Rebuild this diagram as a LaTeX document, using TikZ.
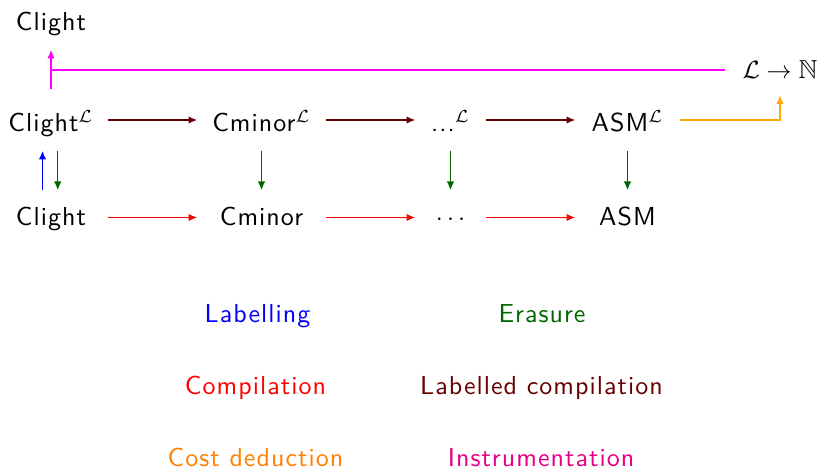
\documentclass[tikz,border=0pt]{standalone}
\usepackage{amssymb}
\usepackage{fontspec}
\setsansfont{lmsans10-regular.otf}[LetterSpace=4]
\usetikzlibrary{arrows.meta}
\definecolor{lblue}{rgb}{0,0,1}
\definecolor{lred}{rgb}{1,0,0}
\definecolor{lgreen}{rgb}{0,0.4,0}
\definecolor{ldred}{rgb}{0.4,0,0}
\definecolor{lorangeT}{rgb}{1,0.5,0}
\definecolor{lorangeA}{rgb}{1,0.66,0}
\definecolor{lmagA}{rgb}{1,0,1}
\definecolor{lmagT}{rgb}{0.9,0,0.52}
\tikzset{
  lbl/.style={font=\fontsize{10.4}{12.5}\sffamily, inner xsep=0pt, inner ysep=5pt, anchor=base},
  rowA/.style={lbl, text height=12pt, text depth=2.4pt},
  rowB/.style={lbl, text height=9.2pt, text depth=2.4pt},
  colA/.style={minimum width=45.2pt},
  colB/.style={minimum width=51.2pt},
  colC/.style={minimum width=28pt},
  colD/.style={minimum width=41.6pt},
  arr/.style={-{Latex[length=3.4pt,width=3pt]}, line width=0.42pt},
  legend/.style={font=\fontsize{10.4}{12.5}\sffamily, inner sep=0pt, anchor=base},
}
\begin{document}
\begin{tikzpicture}[x=0.4pt,y=-0.4pt]
\useasboundingbox (0,0) rectangle (824,470);
% top
\node[rowB, colA] (top) at (51,31) {Clight};
\node[inner sep=0pt, minimum width=44pt, minimum height=20pt, font=\fontsize{10.4}{12.5}\selectfont] (LN) at (780,70) {$\mathcal{L}\to\mathbb{N}$};
% row 1
\node[rowA, colA] (a1) at (51,132) {Clight$^{\mathcal{L}}$};
\node[rowA, colB] (a2) at (261.5,132) {Cminor$^{\mathcal{L}}$};
\node[rowA, colC] (a3) at (450.5,132) {...$^{\mathcal{L}}$};
\node[rowA, colD] (a4) at (627.5,132) {ASM$^{\mathcal{L}}$};
% row 2
\node[rowB, colA] (b1) at (51,226) {Clight};
\node[rowB, colB] (b2) at (261.5,226) {Cminor};
\node[rowB, colC] (b3) at (450.5,226) {$\cdots$};
\node[rowB, colD] (b4) at (627.5,226) {ASM};
% labelled compilation
\draw[arr, ldred] (a1) -- (a2);
\draw[arr, ldred] (a2) -- (a3);
\draw[arr, ldred] (a3) -- (a4);
% compilation
\draw[arr, lred] (b1) -- (b2);
\draw[arr, lred] (b2) -- (b3);
\draw[arr, lred] (b3) -- (b4);
% labelling and erasure
\draw[arr, lblue] ([xshift=-3.4pt]b1.north) -- ([xshift=-3.4pt]a1.south);
\draw[arr, lgreen] ([xshift=2.7pt]a1.south) -- ([xshift=2.7pt]b1.north);
\draw[arr, lgreen] (a2) -- (b2);
\draw[arr, lgreen] (a3) -- (b3);
\draw[arr, lgreen] (a4) -- (b4);
% cost deduction
\draw[arr, lorangeA] (a4.east) -| (LN.south);
% instrumentation
\coordinate (J) at (LN.west -| a1.north);
\draw[line width=0.42pt, lmagA] (LN.west) -- (J);
\draw[arr, lmagA] (a1.north) -- (top.south);
% legend
\node[legend, text=lblue] (g1) at (257.5,323) {Labelling};
\node[legend, text=lgreen] (g2) at (542,323) {Erasure};
\node[legend, text=lred] (g3) at (255.5,395) {Compilation};
\node[legend, text=ldred] (g4) at (541.5,395) {Labelled compilation};
\node[legend, text=lorangeT] (g5) at (255.5,467) {Cost deduction};
\node[legend, text=lmagT] (g6) at (541,467) {Instrumentation};
\end{tikzpicture}
\end{document}
